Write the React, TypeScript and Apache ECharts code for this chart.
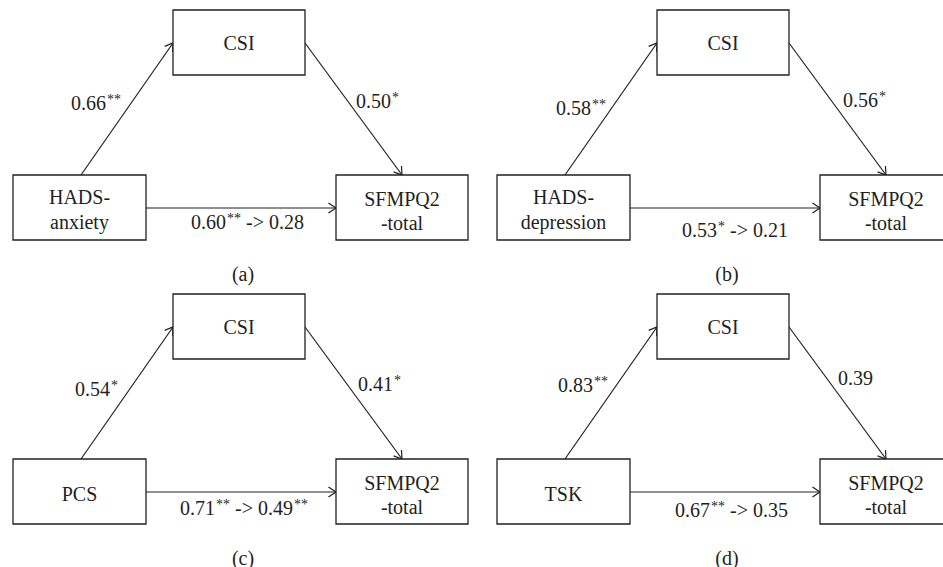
import React, { useEffect, useRef } from "react";
import * as echarts from "echarts";

// ---- data ----
const panelTags = ["(a)", "(b)", "(c)", "(d)"];
const predictorLines = [["HADS-", "anxiety"], ["HADS-", "depression"], ["PCS"], ["TSK"]];
const mediatorName = "CSI";
const outcomeLines = ["SFMPQ2", "-total"];
const pathA = ["0.66", "0.58", "0.54", "0.83"];
const pathAStars = ["**", "**", "*", "**"];
const pathB = ["0.50", "0.56", "0.41", "0.39"];
const pathBStars = ["*", "*", "*", ""];
const totalC = ["0.60", "0.53", "0.71", "0.67"];
const totalCStars = ["**", "*", "**", "**"];
const directC = ["0.28", "0.21", "0.49", "0.35"];
const directCStars = ["", "", "**", ""];

// ---- layout (diagram units, mapped through hidden value axes) ----
const PANEL_ORIGIN = [
  [0, 0],
  [484, 0],
  [0, 284],
  [484, 284],
];
const MED_BOX = [173, 10, 132, 65];
const PRED_BOX = [13, 175, 133, 65];
const OUT_BOX = [336, 175, 132, 65];
const A_FROM = [81, 175];
const A_TO = [173, 43];
const B_FROM = [305, 43];
const B_TO = [402, 175];
const C_Y = 208;
const A_LABEL = [
  [121, 102],
  [122, 107],
  [118, 104],
  [124, 100],
];
const B_LABEL = [
  [356, 100],
  [359, 99],
  [358, 99],
  [354, 93],
];
const C_LABEL = [
  [304, 221],
  [304, 229],
  [308, 223],
  [304, 225],
];
const TAG_POS = [243, 273];

const INK = "#231f20";
const FONT = "Liberation Serif";
const FS = 20;
const FS_STAR = 14;

let measureCtx: CanvasRenderingContext2D | null = null;
function measure(t: string, size: number) {
  if (!measureCtx) measureCtx = document.createElement("canvas").getContext("2d");
  if (!measureCtx) return t.length * size * 0.5;
  measureCtx.font = `${size}px "${FONT}"`;
  return measureCtx.measureText(t).width;
}

function arrowHead(p0: number[], p1: number[], L = 9, deg = 33) {
  const dx = p1[0] - p0[0];
  const dy = p1[1] - p0[1];
  const len = Math.hypot(dx, dy);
  const ux = dx / len;
  const uy = dy / len;
  const a = (deg * Math.PI) / 180;
  const rot = (t: number) => [ux * Math.cos(t) - uy * Math.sin(t), ux * Math.sin(t) + uy * Math.cos(t)];
  const r1 = rot(a);
  const r2 = rot(-a);
  return [
    [p1[0] - L * r1[0], p1[1] - L * r1[1]],
    [p1[0], p1[1]],
    [p1[0] - L * r2[0], p1[1] - L * r2[1]],
  ];
}

type Run = [string, boolean]; // [text, isSuperscript]

function textRuns(runs: Run[], anchor: number[], align: "left" | "center" | "right") {
  const parts = runs.filter((r) => r[0].length > 0);
  const widths = parts.map((r) => measure(r[0], r[1] ? FS_STAR : FS) + (r[1] ? 1 : 0));
  const total = widths.reduce((s, w) => s + w, 0);
  let x = align === "left" ? anchor[0] : align === "center" ? anchor[0] - total / 2 : anchor[0] - total;
  const top = anchor[1] - 9;
  const out: any[] = [];
  parts.forEach((r, k) => {
    out.push({
      type: "text",
      style: {
        text: r[0],
        x: r[1] ? x + 1 : x,
        y: r[1] ? top - 1 : top,
        fontSize: r[1] ? FS_STAR : FS,
        fontFamily: FONT,
        fill: INK,
      },
    });
    x += widths[k];
  });
  return out;
}

export default function App() {
  const ref = useRef<HTMLDivElement>(null);
  useEffect(() => {
    document.body.style.margin = "0";
    if (!ref.current) return;
    const chart = echarts.init(ref.current, undefined, { renderer: "svg" });

    const renderItem = (params: any, api: any) => {
      const i = params.dataIndex;
      const ox = api.value(0);
      const oy = api.value(1);
      const P = (x: number, y: number) => api.coord([ox + x, oy + y]);
      const box = (b: number[]) => {
        const p1 = P(b[0], b[1]);
        const p2 = P(b[0] + b[2], b[1] + b[3]);
        return {
          type: "rect",
          shape: { x: p1[0], y: p1[1], width: p2[0] - p1[0], height: p2[1] - p1[1] },
          style: { fill: "#fff", stroke: INK, lineWidth: 1.3 },
        };
      };
      const line = (a: number[], b: number[]) => ({
        type: "line",
        shape: { x1: a[0], y1: a[1], x2: b[0], y2: b[1] },
        style: { stroke: INK, lineWidth: 1.2 },
      });
      const head = (a: number[], b: number[]) => ({
        type: "polyline",
        shape: { points: arrowHead(a, b) },
        style: { stroke: INK, lineWidth: 1.2, fill: "none" },
      });
      const multiLine = (lines: string[], cx: number, cy: number, lh: number) => {
        const out: any[] = [];
        lines.forEach((t, k) => {
          const y = cy + (k - (lines.length - 1) / 2) * lh;
          out.push(...textRuns([[t, false]], P(cx, y), "center"));
        });
        return out;
      };

      const aFrom = P(A_FROM[0], A_FROM[1]);
      const aTo = P(A_TO[0], A_TO[1]);
      const bFrom = P(B_FROM[0], B_FROM[1]);
      const bTo = P(B_TO[0], B_TO[1]);
      const cFrom = P(PRED_BOX[0] + PRED_BOX[2], C_Y);
      const cTo = P(OUT_BOX[0], C_Y);

      return {
        type: "group",
        children: [
          line(aFrom, aTo),
          head(aFrom, aTo),
          line(bFrom, bTo),
          head(bFrom, bTo),
          line(cFrom, cTo),
          head(cFrom, cTo),
          box(MED_BOX),
          box(PRED_BOX),
          box(OUT_BOX),
          ...multiLine([mediatorName], MED_BOX[0] + MED_BOX[2] / 2, MED_BOX[1] + MED_BOX[3] / 2 - 1, 25),
          ...multiLine(predictorLines[i], PRED_BOX[0] + PRED_BOX[2] / 2, PRED_BOX[1] + PRED_BOX[3] / 2 + 1, 25),
          ...multiLine(outcomeLines, OUT_BOX[0] + OUT_BOX[2] / 2, OUT_BOX[1] + OUT_BOX[3] / 2 + 2, 24),
          ...textRuns(
            [
              [pathA[i], false],
              [pathAStars[i], true],
            ],
            P(A_LABEL[i][0], A_LABEL[i][1]),
            "right"
          ),
          ...textRuns(
            [
              [pathB[i], false],
              [pathBStars[i], true],
            ],
            P(B_LABEL[i][0], B_LABEL[i][1]),
            "left"
          ),
          ...textRuns(
            [
              [totalC[i], false],
              [totalCStars[i], true],
              [" -> ", false],
              [directC[i], false],
              [directCStars[i], true],
            ],
            P(C_LABEL[i][0], C_LABEL[i][1]),
            "right"
          ),
          ...textRuns([[panelTags[i], false]], P(TAG_POS[0], TAG_POS[1]), "center"),
        ],
      };
    };

    chart.setOption({
      animation: false,
      grid: { left: 0, right: 0, top: 0, bottom: 0 },
      xAxis: { type: "value", min: 0, max: 943, show: false },
      yAxis: { type: "value", min: 0, max: 567, inverse: true, show: false },
      series: [
        {
          type: "custom",
          data: PANEL_ORIGIN,
          renderItem,
        },
      ],
    });
    return () => chart.dispose();
  }, []);
  return <div ref={ref} style={{ width: 943, height: 567 }} />;
}
